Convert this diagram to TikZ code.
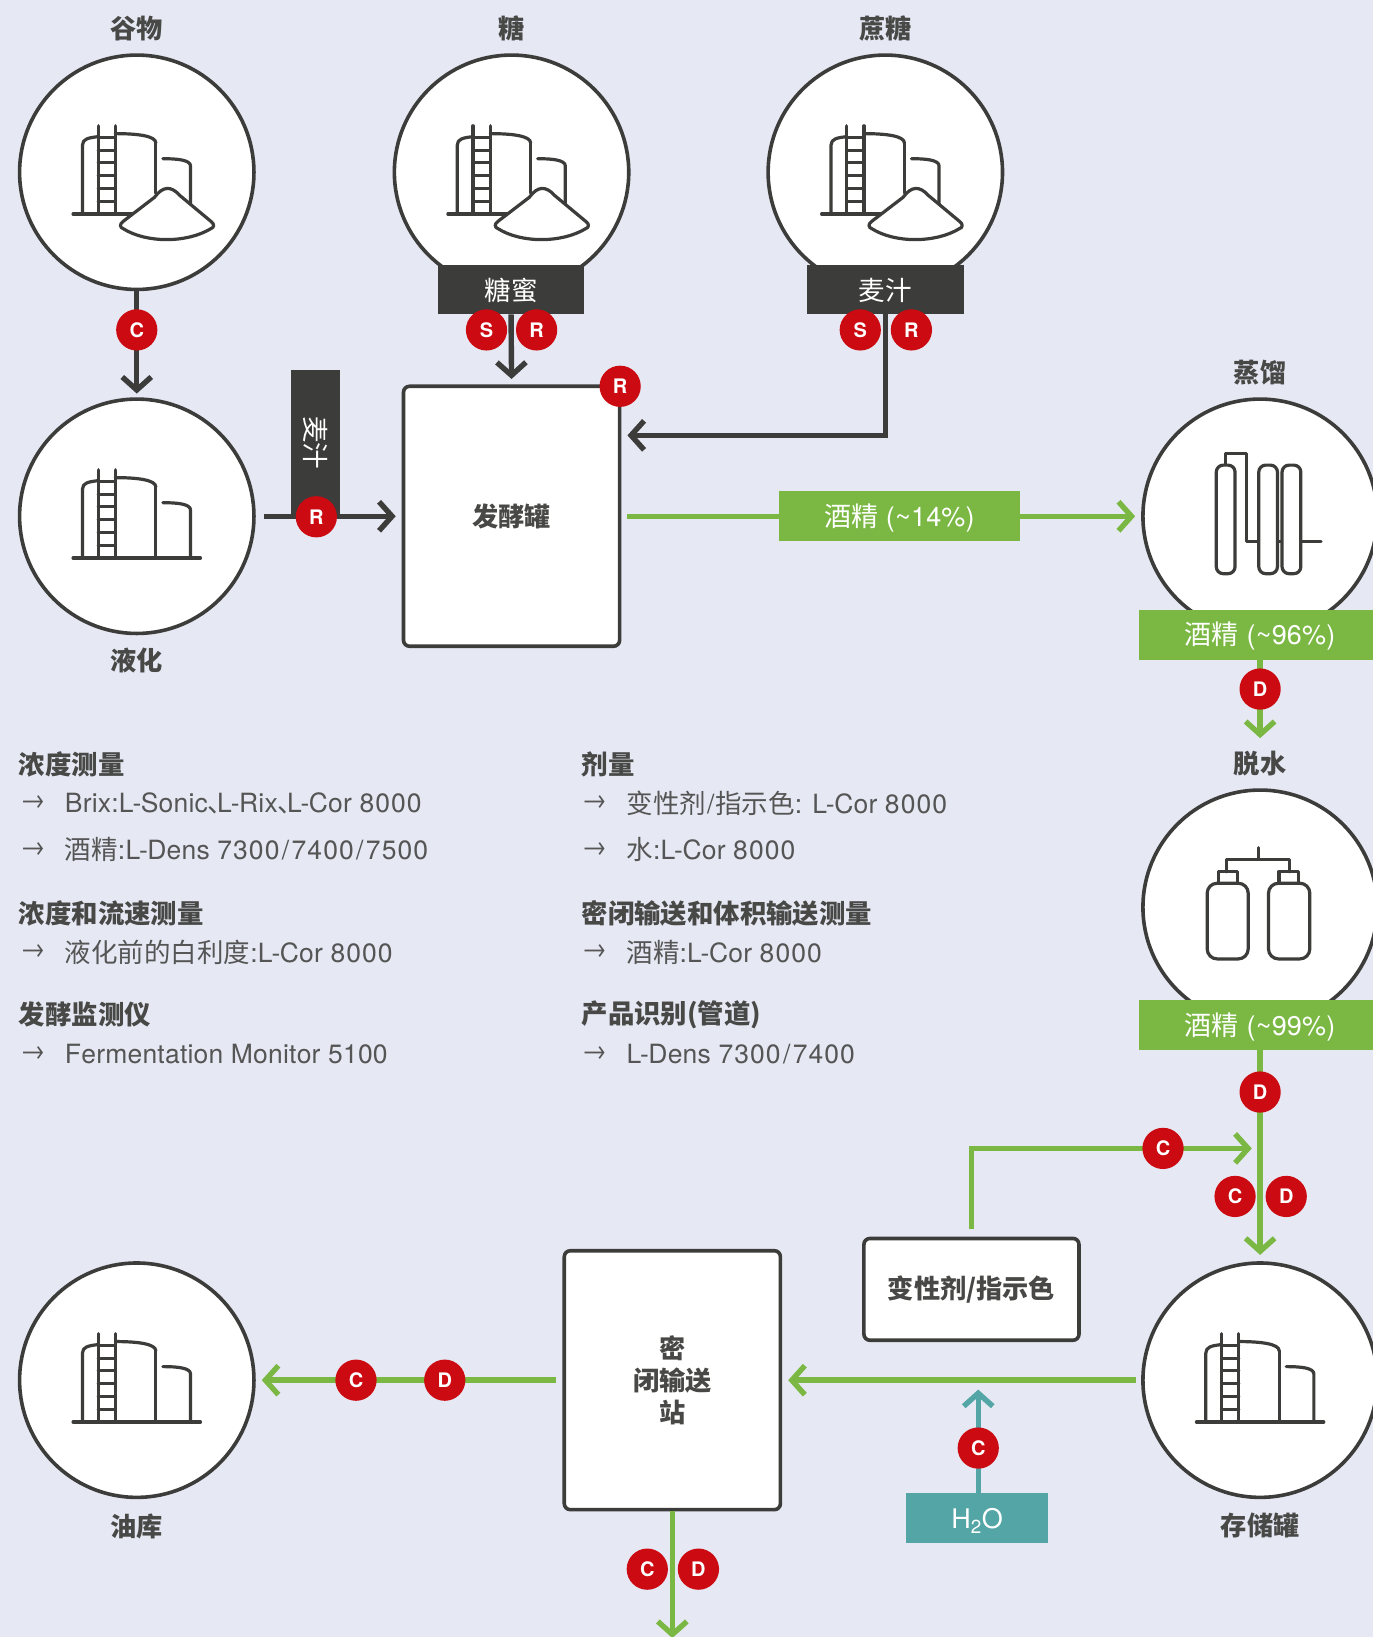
\documentclass[tikz,border=0pt]{standalone}
\usepackage{fontspec}
\setmainfont{TeX Gyre Heros}[Kerning=Off,LetterSpace=0.8]
\newfontfamily\cjk{Noto Sans CJK SC}
\newfontfamily\cjkp{Noto Sans CJK SC}[RawFeature=+halt]
\usetikzlibrary{arrows.meta}
\definecolor{bgc}{HTML}{E6E9F3}
\definecolor{ink}{HTML}{3C3C3B}
\definecolor{inkb}{HTML}{484847}
\definecolor{txtc}{HTML}{555555}
\definecolor{grn}{HTML}{7AB843}
\definecolor{teal2}{HTML}{54A5A5}
\definecolor{redc}{HTML}{CC0A12}
\def\u{1.0441pt}
\newcommand{\zh}[1]{{\cjk #1}}
\newcommand{\zb}[1]{{\cjk\bfseries #1}}
\newcommand{\slsh}{\kern2.4pt/\kern2.4pt}
\newcommand{\Lh}{L\kern-1.2pt-\kern-.5pt}
\newcommand{\dun}{{\cjkp 、}\kern-.15em }
\newcommand{\dg}[1]{{\addfontfeature{LetterSpace=4}#1}}
\newcommand{\lowered}[2]{\raisebox{-#1}[0pt][0pt]{#2}}
\tikzset{
 x=1.0441pt,y=-1.0441pt,
 proc/.style={circle,draw=ink,fill=white,line width=3.6pt,minimum size=224.5*\u,inner sep=0},
 vessel/.style={rectangle,rounded corners=6pt,draw=ink,fill=white,line width=3.6pt,inner sep=0,align=center,text=inkb,font=\fontsize{26.2}{32}\selectfont},
 darkbox/.style={rectangle,fill=ink,text=white,inner sep=0,font=\fontsize{26.5}{30}\selectfont},
 greenbox/.style={rectangle,fill=grn,text=white,inner sep=0,minimum height=48*\u,font=\fontsize{27}{30}\selectfont},
 tealbox/.style={rectangle,fill=teal2,text=white,inner sep=0,minimum height=48*\u,font=\fontsize{27}{30}\selectfont},
 badge/.style={circle,fill=redc,text=white,minimum size=39.5*\u,inner sep=0,font=\fontsize{20}{20}\selectfont\bfseries},
 title/.style={text=inkb,inner sep=0,font=\fontsize{26.2}{30}\selectfont},
 head/.style={anchor=west,text=inkb,inner sep=0,font=\fontsize{26.4}{30}\selectfont},
 item/.style={anchor=west,text=txtc,inner sep=0,font=\fontsize{26.5}{30}\selectfont},
 bullet/.style={anchor=west,text=txtc,inner sep=0,font=\fontsize{26}{30}\selectfont},
 darkflow/.style={draw=ink,line width=5.4pt,-{Straight Barb[length=13pt,width=29pt,line width=5.4pt]}},
 greenflow/.style={draw=grn,line width=5.4pt,-{Straight Barb[length=13pt,width=29pt,line width=5.4pt]}},
 tealflow/.style={draw=teal2,line width=5.4pt,-{Straight Barb[length=13pt,width=29pt,line width=5.4pt]}},
 iconline/.style={draw=ink,line width=3.2pt,line cap=round,line join=round},
 tankbase/.pic={
  \draw[iconline] (-37,-44.5)--(-37,40) (-20.4,-44.5)--(-20.4,40);
  \foreach \yy in {-33,-21,-9,3,15.5,28}{\draw[iconline] (-37,\yy)--(-20.4,\yy);}
  \draw[iconline] (-38,-34) .. controls (-46,-33) and (-52,-32) .. (-52,-26) -- (-52,40);
  \draw[iconline] (-20.4,-37) .. controls (0,-37) and (18.3,-35) .. (18.3,-28);
 },
 tankfull/.pic={
  \pic at (0,0) {tankbase};
  \draw[iconline] (-61,40)--(61,40);
  \draw[iconline] (18.3,-28)--(18.3,40);
  \draw[iconline] (25,-13) .. controls (38,-13) and (51.5,-12) .. (51.5,-6) -- (51.5,40);
 },
 tankpile/.pic={
  \pic at (0,0) {tankbase};
  \draw[iconline] (-61,40)--(0,40);
  \draw[iconline] (18.3,-28)--(18.3,20);
  \draw[iconline] (25,-13) .. controls (38,-13) and (51.5,-12) .. (51.5,-6) -- (51.5,30);
  \draw[iconline,fill=white] (17,24) .. controls (25,13) and (33,13) .. (41,22) -- (71,47) .. controls (75,50) and (74,53) .. (71,54) .. controls (48,68) and (9,68) .. (-13,54) .. controls (-16,53) and (-17,50) .. (-13,47) -- cycle;
 },
 distillicon/.pic={
  \draw[iconline] (-33.5,-49)--(-33.5,-60.5)--(-13,-60.5)--(-13,24.4)--(58.4,24.4);
  \draw[iconline,fill=white,rounded corners=7pt] (-42,-49) rectangle (-24,55);
  \draw[iconline,fill=white,rounded corners=7pt] (-1.3,-49) rectangle (16.6,55);
  \draw[iconline,fill=white,rounded corners=7pt] (21,-49) rectangle (39,55);
 },
 dehydicon/.pic={
  \draw[iconline] (-1.6,-57)--(-1.6,-46) (-32,-34)--(-32,-46)--(28.4,-46)--(28.4,-34);
  \draw[iconline] (-40,-23)--(-40,-34)--(-22,-34)--(-22,-23);
  \draw[iconline] (18,-23)--(18,-34)--(37,-34)--(37,-23);
  \draw[iconline,rounded corners=10pt] (-50.7,-23) rectangle (-11.4,49.5);
  \draw[iconline,rounded corners=10pt] (8,-23) rectangle (47.6,49.5);
 },
}
\begin{document}
\begin{tikzpicture}
\clip (0,0) rectangle (1315,1568);
\fill[bgc] (0,0) rectangle (1315,1568);
% process circles
\node[proc] (grain) at (131,165) {};
\node[proc] (sugar) at (490,165) {};
\node[proc] (cane) at (848,165) {};
\node[proc] (liq) at (131,494.5) {};
\node[proc] (dist) at (1207,494.5) {};
\node[proc] (dehy) at (1207,869) {};
\node[proc] (store) at (1207,1322) {};
\node[proc] (oil) at (131,1322) {};
\pic at (grain) {tankpile};
\pic at (sugar) {tankpile};
\pic at (cane) {tankpile};
\pic at (liq) {tankfull};
\pic at (store) {tankfull};
\pic at (oil) {tankfull};
\pic at (dist) {distillicon};
\pic at (dehy) {dehydicon};
% vessels
\node[vessel,minimum width=207*\u,minimum height=249*\u] (ferm) at (490,494.5) {\zb{发酵罐}};
\node[vessel,minimum width=207*\u,minimum height=248*\u] (closed) at (644,1322) {\zb{密}\\\zb{闭输送}\\\zb{站}};
\node[vessel,minimum width=206*\u,minimum height=97.5*\u] (denat) at (930.5,1235) {\zb{变性剂/指示色}};
% label boxes
\node[darkbox,minimum width=139*\u,minimum height=47*\u] (molasses) at (489.5,277.5) {\lowered{10.5pt}{\zh{糖蜜}}};
\node[darkbox,minimum width=150*\u,minimum height=47*\u] (wort) at (848,277.5) {\lowered{10.5pt}{\zh{麦汁}}};
\node[darkbox,minimum width=47*\u,minimum height=141*\u] (wortv) at (302.5,424.5) {};
\node[text=white,inner sep=0,rotate=-90,font=\fontsize{26.5}{30}\selectfont] (wortvt) at (302,424) {\zh{麦汁}};
\node[greenbox,minimum width=231*\u] (g14) at (861.5,494.5) {\lowered{10pt}{\zh{酒精} (\textasciitilde14\%)}};
\node[greenbox,minimum width=232*\u] (g96) at (1207,608) {\lowered{10pt}{\zh{酒精} (\textasciitilde96\%)}};
\node[greenbox,minimum width=232*\u] (g99) at (1207,982) {\lowered{10pt}{\zh{酒精} (\textasciitilde99\%)}};
\node[tealbox,minimum width=136*\u] (water) at (936,1454) {\lowered{10.5pt}{H\textsubscript{2}O}};
% free ends
\coordinate (fermin) at (601,417);
\coordinate (join) at (1199,1100);
\coordinate (waterend) at (937,1331);
\coordinate (out) at (644,1569);
\coordinate (waterstart) at (937,1430);
\coordinate (dehyin) at (1207,707);
\coordinate (liqin) at (131,377);
\coordinate (fermtop) at (490,363);
\coordinate (storein) at (1207,1202);
% connectors
\draw[darkflow] (grain.south) -- (liqin);
\draw[darkflow] (molasses.south) -- (fermtop);
\draw[darkflow] (wort.south) |- (fermin);
\draw[darkflow,shorten <=8pt,shorten >=6pt] (liq.east) -- (ferm.west);
\draw[greenflow,-] ([xshift=6pt]ferm.east) -- (g14.west);
\draw[greenflow,shorten >=6pt] (g14.east) -- (dist.west);
\draw[greenflow] (g96.south) -- (dehyin);
\draw[greenflow] (g99.south) -- (storein);
\draw[greenflow,shorten <=8pt] (denat.north) |- (join);
\draw[greenflow,shorten <=5pt,shorten >=6pt] (store.west) -- (closed.east);
\draw[tealflow] (waterstart) -- (waterend);
\draw[greenflow,shorten <=6pt,shorten >=6pt] (closed.west) -- (oil.east);
\draw[greenflow] (closed.south) -- (out);
% badges
\node[badge] (b1) at (131,316) {C};
\node[badge] (b2) at (466,316) {S};
\node[badge] (b3) at (514,316) {R};
\node[badge] (b4) at (824,316) {S};
\node[badge] (b5) at (873,316) {R};
\node[badge] (b6) at (594,370) {R};
\node[badge] (b7) at (303,495) {R};
\node[badge] (b8) at (1207,660) {D};
\node[badge] (b9) at (1207,1046) {D};
\node[badge] (b10) at (1114,1100) {C};
\node[badge] (b11) at (1183,1146) {C};
\node[badge] (b12) at (1232,1146) {D};
\node[badge] (b13) at (341,1322) {C};
\node[badge] (b14) at (426,1322) {D};
\node[badge] (b15) at (937,1387) {C};
\node[badge] (b16) at (620,1503) {C};
\node[badge] (b17) at (669,1503) {D};
% titles
\node[title] (t1) at (131,27) {\zb{谷物}};
\node[title] (t2) at (490,27) {\zb{糖}};
\node[title] (t3) at (848,27) {\zb{蔗糖}};
\node[title] (t4) at (131,633) {\zb{液化}};
\node[title] (t5) at (1207,357) {\zb{蒸馏}};
\node[title] (t6) at (1207,731) {\zb{脱水}};
\node[title] (t7) at (1207,1461) {\zb{存储罐}};
\node[title] (t8) at (131,1462) {\zb{油库}};
% left legend
\node[head] (h1) at (18,732) {\zb{浓度测量}};
\node[bullet] (a1) at (18.5,768) {→};
\node[item] (i1) at (62,769) {Brix:\Lh Sonic\dun\Lh Rix\dun\Lh Cor \dg{8000}};
\node[bullet] (a2) at (18.5,813) {→};
\node[item] (i2) at (62,814) {\zh{酒精}:\Lh Dens \dg{7300}\slsh\dg{7400}\slsh\dg{7500}};
\node[head] (h2) at (18,875) {\zb{浓度和流速测量}};
\node[bullet] (a3) at (18.5,911) {→};
\node[item] (i3) at (62,912) {\zh{液化前的白利度}:\Lh Cor \dg{8000}};
\node[head] (h3) at (18,972) {\zb{发酵监测仪}};
\node[bullet] (a4) at (18.5,1009) {→};
\node[item] (i4) at (62,1010) {Fermentation Monitor 5100};
% right legend
\node[head] (h4) at (557,732) {\zb{剂量}};
\node[bullet] (a5) at (556.5,768) {→};
\node[item] (i5) at (600,769) {\zh{变性剂}\kern1pt/\kern1pt\zh{指示色}: \Lh Cor \dg{8000}};
\node[bullet] (a6) at (556.5,813) {→};
\node[item] (i6) at (600,814) {\zh{水}:\Lh Cor \dg{8000}};
\node[head] (h5) at (557,875) {\zb{密闭输送和体积输送测量}};
\node[bullet] (a7) at (556.5,911) {→};
\node[item] (i7) at (600,912) {\zh{酒精}:\Lh Cor \dg{8000}};
\node[head] (h6) at (557,972) {\zb{产品识别(管道)}};
\node[bullet] (a8) at (556.5,1009) {→};
\node[item] (i8) at (600,1010) {\Lh Dens \dg{7300}\slsh\dg{7400}};
\end{tikzpicture}
\end{document}
